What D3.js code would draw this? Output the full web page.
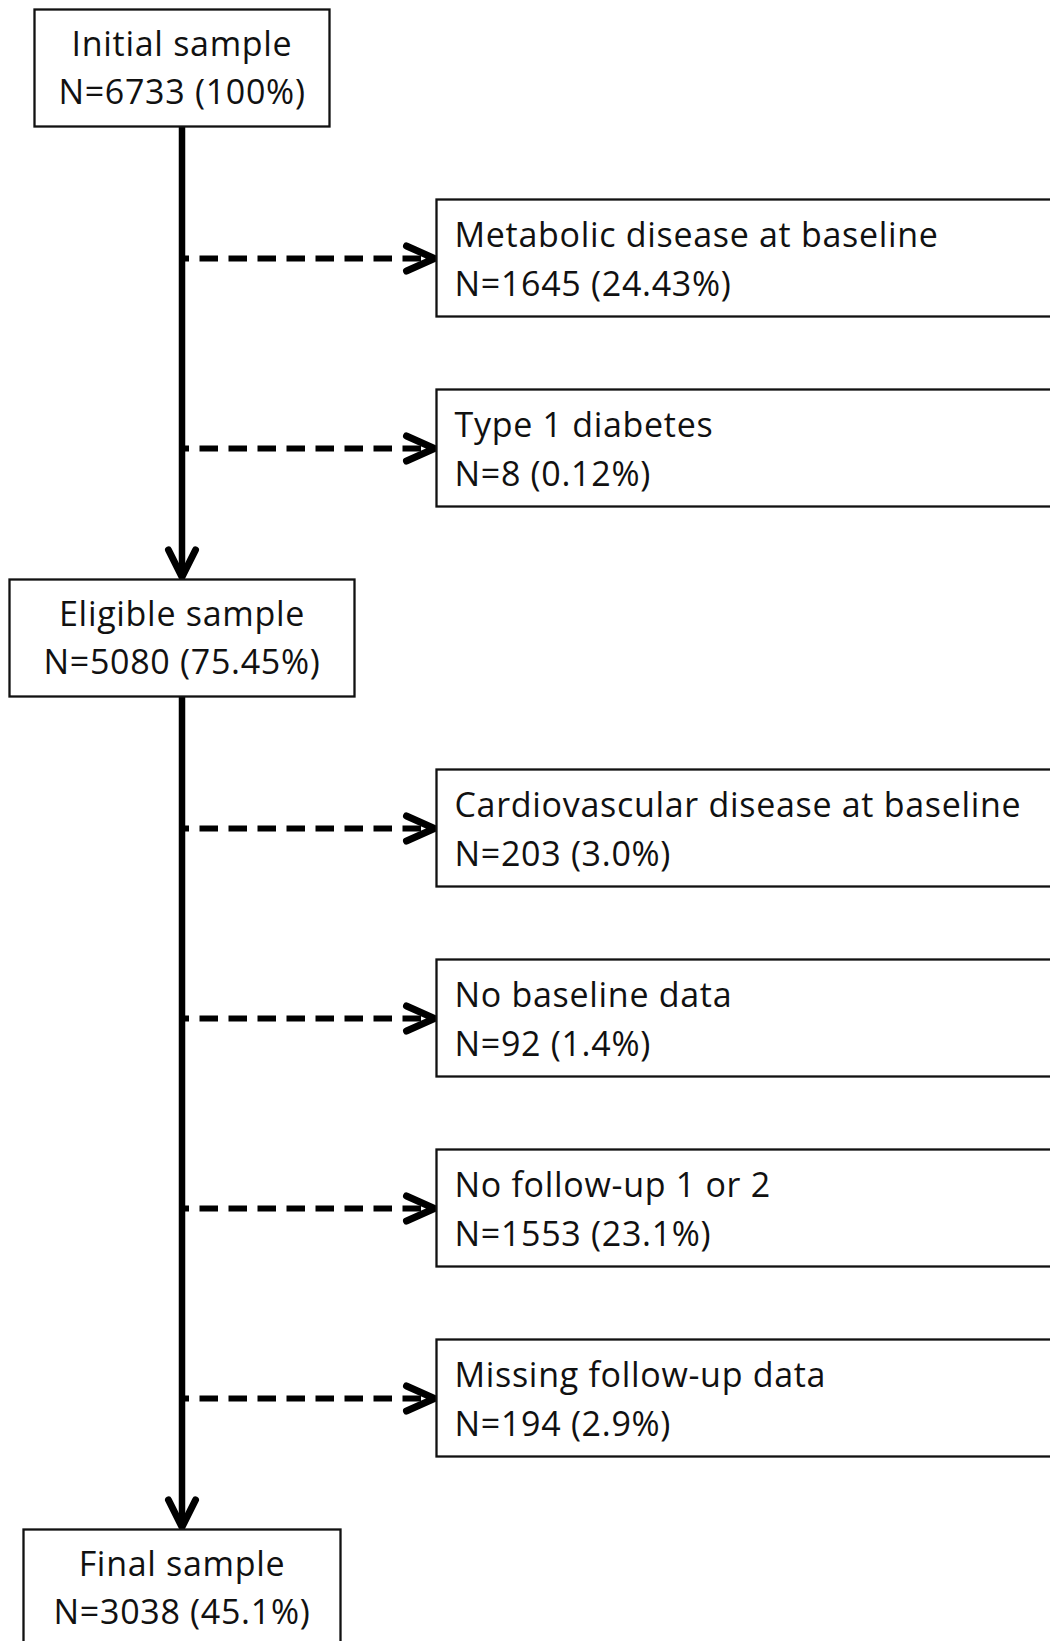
<!DOCTYPE html>
<html>
<head>
<meta charset="utf-8">
<script src="https://cdn.jsdelivr.net/npm/d3@7"></script>
<style>
  html, body { margin: 0; padding: 0; background: #fff; }
  svg { display: block; }
  text { font-family: "Open Sans", Lato, sans-serif; fill: #111; letter-spacing: 0.7px; }
</style>
</head>
<body>
<div class="chart"></div>
<script>
// flow stages (the boxes on the main line)
const stageLabels = ["Initial sample", "Eligible sample", "Final sample"];
const stageN = [6733, 5080, 3038];
const stagePct = ["100%", "75.45%", "45.1%"];

// exclusions, with the stage they leave from
const exclLabels = ["Metabolic disease at baseline", "Type 1 diabetes",
  "Cardiovascular disease at baseline", "No baseline data",
  "No follow-up 1 or 2", "Missing follow-up data"];
const exclN = [1645, 8, 203, 92, 1553, 194];
const exclPct = ["24.43%", "0.12%", "3.0%", "1.4%", "23.1%", "2.9%"];
const exclStage = [0, 0, 1, 1, 1, 1];

var width = 1050, height = 1641;
var spineX = 182, boxH = 117, sideX = 436.5;
var stageW = [295, 345, 317];
var fontSize = 34;

// walk the flow to give every box a row
var stageRow = [], exclRow = [], row = 0;
for (var s = 0; s < stageLabels.length; s++) {
  stageRow.push(row++);
  for (var e = 0; e < exclLabels.length; e++) {
    if (exclStage[e] == s) { exclRow[e] = row++; }
  }
}

var y = d3.scaleLinear()
  .domain([0, row - 1])
  .range([9.5, 1529.5]);

var svg = d3.select(".chart")
  .append("svg")
    .attr("width", width)
    .attr("height", height);

svg.append("rect").attr("width", width).attr("height", height).attr("fill", "#fff");

// solid spine between stages
for (var s = 0; s < stageLabels.length - 1; s++) {
  var y0 = y(stageRow[s]) + boxH, y1 = y(stageRow[s + 1]) - 2.5;
  svg.append("line")
    .attr("x1", spineX).attr("x2", spineX)
    .attr("y1", y0).attr("y2", y1)
    .attr("stroke", "#000").attr("stroke-width", 6.5);
  svg.append("path")
    .attr("d", d3.line()([[spineX - 13.5, y1 - 27], [spineX, y1], [spineX + 13.5, y1 - 27]]))
    .attr("fill", "none").attr("stroke", "#000").attr("stroke-width", 7)
    .attr("stroke-linecap", "round").attr("stroke-linejoin", "miter");
}

// dashed exclusion arrows
exclLabels.forEach(function(d, i) {
  var ay = y(exclRow[i]) + boxH / 2 + 0.5;
  var tip = sideX - 2;
  svg.append("line")
    .attr("x1", spineX).attr("x2", tip - 6)
    .attr("y1", ay).attr("y2", ay)
    .attr("stroke", "#000").attr("stroke-width", 6)
    .attr("stroke-dasharray", "18.5,10.5")
    .attr("stroke-dashoffset", 11.5);
  svg.append("path")
    .attr("d", d3.line()([[tip - 28, ay - 12.5], [tip, ay], [tip - 28, ay + 12.5]]))
    .attr("fill", "none").attr("stroke", "#000").attr("stroke-width", 7)
    .attr("stroke-linecap", "round");
});

// stage boxes
var stages = svg.selectAll(".stage")
  .data(stageLabels)
  .enter()
  .append("g");

stages.append("rect")
  .attr("x", function(d, i) { return spineX - stageW[i] / 2; })
  .attr("y", function(d, i) { return y(stageRow[i]); })
  .attr("width", function(d, i) { return stageW[i]; })
  .attr("height", boxH)
  .attr("fill", "#fff").attr("stroke", "#111").attr("stroke-width", 2.3);

stages.append("text")
  .attr("x", spineX)
  .attr("y", function(d, i) { return y(stageRow[i]) + 46; })
  .attr("text-anchor", "middle")
  .attr("font-size", fontSize)
  .text(function(d) { return d; });

stages.append("text")
  .attr("x", spineX)
  .attr("y", function(d, i) { return y(stageRow[i]) + 94; })
  .attr("text-anchor", "middle")
  .attr("font-size", fontSize)
  .text(function(d, i) { return "N=" + stageN[i] + " (" + stagePct[i] + ")"; });

// exclusion boxes (run off the right edge)
var excl = svg.selectAll(".excl")
  .data(exclLabels)
  .enter()
  .append("g");

excl.append("rect")
  .attr("x", sideX)
  .attr("y", function(d, i) { return y(exclRow[i]); })
  .attr("width", width - sideX + 10)
  .attr("height", boxH)
  .attr("fill", "#fff").attr("stroke", "#111").attr("stroke-width", 2.3);

excl.append("text")
  .attr("x", sideX + 18)
  .attr("y", function(d, i) { return y(exclRow[i]) + 47; })
  .attr("font-size", fontSize)
  .text(function(d) { return d; });

excl.append("text")
  .attr("x", sideX + 18)
  .attr("y", function(d, i) { return y(exclRow[i]) + 96; })
  .attr("font-size", fontSize)
  .text(function(d, i) { return "N=" + exclN[i] + " (" + exclPct[i] + ")"; });
</script>
</body>
</html>
